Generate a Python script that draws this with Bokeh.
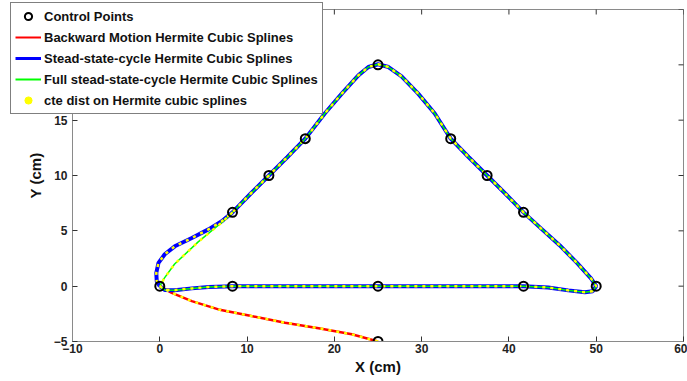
import math
from bokeh.plotting import figure
from bokeh.layouts import column
from bokeh.models import Legend, LegendItem, Range1d, FixedTicker
from bokeh.embed import file_html
from bokeh.resources import INLINE

# ---- data ----
ctrl_x = [0, 8.33, 25, 41.67, 50, 41.67, 37.5, 33.33, 25, 16.67, 12.5, 8.33, 25]
ctrl_y = [0, 0, 0, 0, 0, 6.67, 10, 13.33, 20, 13.33, 10, 6.67, -5]

# common part of the steady-state loop: (0,0) -> bottom -> right -> top -> (8.33,6.67)
loop_x = [0, 0.6, 1.7, 3.67, 5.6, 8.33, 25, 41.67, 44.5, 46.8, 48.7, 49.6, 50,
          49.4, 47.8, 45.8, 43.7, 41.67, 39.6, 37.5, 35.4, 33.33,
          31.5, 29.6, 27.7, 26.2, 25.0, 23.9, 22.75, 20.85, 18.9, 16.67,
          14.6, 12.5, 10.4, 8.33]
loop_y = [0, -0.35, -0.36, -0.2, -0.08, 0, 0, 0, -0.12, -0.38, -0.55, -0.45, 0,
          0.7, 2.1, 3.7, 5.2, 6.67, 8.35, 10, 11.65, 13.33,
          15.6, 17.4, 18.95, 19.8, 20.05, 19.8, 19.05, 17.4, 15.6, 13.33,
          11.65, 10, 8.35, 6.67]

# closing segment of the steady-state cycle (blue)
blue_tail_x = [8.33, 7.1, 5.58, 3.67, 1.72, 0.57, -0.15, -0.4, -0.35, 0]
blue_tail_y = [6.67, 5.86, 5.13, 4.35, 3.6, 2.88, 2.1, 1.2, 0.45, 0]

# closing segment of the full steady-state cycle (green)
green_tail_x = [8.33, 7.1, 4.4, 1.7, 0.5, 0]
green_tail_y = [6.67, 5.75, 4.0, 2.0, 0.7, 0]

# backward motion (red)
back_x = [25, 22, 18.2, 14.35, 10.5, 6.72, 3.67, 1.37, 0]
back_y = [-5, -4.35, -3.8, -3.3, -2.7, -2.1, -1.35, -0.6, 0]

x_ticks = [-10, 0, 10, 20, 30, 40, 50, 60]
y_ticks = [-5, 0, 5, 10, 15, 20, 25]

legend_labels = [
    "Control Points",
    "Backward Motion Hermite Cubic Splines",
    "Stead-state-cycle Hermite Cubic Splines",
    "Full stead-state-cycle Hermite Cubic Splines",
    "cte dist on Hermite cubic splines",
]

FONT = "Liberation Sans"
AX_GRAY = "#8a8a8a"
RED, BLUE, GREEN, YELLOW = "#ff0000", "#0000ff", "#00ff00", "#ffff00"

p = figure(width=687, height=381, x_range=Range1d(-10, 60), y_range=Range1d(-5, 25),
           output_backend="svg", toolbar_location=None,
           min_border_left=72, min_border_right=4, min_border_top=9, min_border_bottom=40)
p.xgrid.visible = False
p.ygrid.visible = False
p.outline_line_color = AX_GRAY
p.outline_line_width = 1

for ax, ticks in ((p.xaxis[0], x_ticks), (p.yaxis[0], y_ticks)):
    ax.ticker = FixedTicker(ticks=ticks)
    ax.major_tick_in = 5
    ax.major_tick_out = 0
    ax.minor_tick_line_color = None
    ax.axis_line_color = AX_GRAY
    ax.major_tick_line_color = "#333333"
    ax.major_label_text_font = FONT
    ax.major_label_text_font_style = "bold"
    ax.major_label_text_font_size = "12px"
    ax.major_label_text_color = "#222222"
    ax.axis_label_text_font = FONT
    ax.axis_label_text_font_style = "bold"
    ax.axis_label_text_font_size = "15px"
    ax.axis_label_text_color = "#111111"

p.xaxis.axis_label = "X (cm)"
p.yaxis.axis_label = "Y (cm)"
p.xaxis.major_label_standoff = 2
p.xaxis.axis_label_standoff = 2
p.yaxis.major_label_standoff = 5
p.yaxis.axis_label_standoff = 7

# inward ticks on the top and right edges of the box
x_end = p.x_range.end
y_end = p.y_range.end
p.scatter([x_end] * len(y_ticks), y_ticks, marker="dash", size=10,
          line_color="#333333", line_width=1)
p.scatter(x_ticks, [y_end] * len(x_ticks), marker="dash", size=10, angle=math.pi / 2,
          line_color="#333333", line_width=1)

steady_x = loop_x + blue_tail_x[1:]
steady_y = loop_y + blue_tail_y[1:]
full_x = loop_x + green_tail_x[1:]
full_y = loop_y + green_tail_y[1:]

p.line(back_x, back_y, line_color=RED, line_width=2.5)
p.line(steady_x, steady_y, line_color=BLUE, line_width=4)
p.line(full_x, full_y, line_color=GREEN, line_width=1.5)
# constant-distance points on the splines, drawn as a yellow dotted trace
for xs, ys in ((steady_x, steady_y), (green_tail_x, green_tail_y), (back_x, back_y)):
    p.line(xs, ys, line_color=YELLOW, line_width=2.5, line_dash="3 5")
p.scatter(ctrl_x, ctrl_y, marker="circle", size=9, fill_color=None,
          line_color="black", line_width=2)

# ---- legend: a small transparent figure laid over the top-left corner ----
# its ranges are set away from the data so that only the legend shows
L = figure(width=396, height=114, x_range=Range1d(100, 101), y_range=Range1d(100, 101),
           output_backend="svg", toolbar_location=None,
           x_axis_type=None, y_axis_type=None, min_border=0)
L.xgrid.visible = False
L.ygrid.visible = False
L.outline_line_color = None
L.background_fill_alpha = 0
L.border_fill_alpha = 0
L.margin = (-379, 0, 0, -62)

g_ctrl = L.scatter(ctrl_x, ctrl_y, marker="circle", size=8, fill_color=None,
                   line_color="black", line_width=2)
g_red = L.line(back_x, back_y, line_color=RED, line_width=2)
g_blue = L.line(steady_x, steady_y, line_color=BLUE, line_width=3)
g_green = L.line(full_x, full_y, line_color=GREEN, line_width=2)
g_yel = L.scatter(back_x, back_y, marker="circle", size=3, color=YELLOW)

legend = Legend(items=[LegendItem(label=lab, renderers=[r]) for lab, r in
                       zip(legend_labels, [g_ctrl, g_red, g_blue, g_green, g_yel])],
                location="top_left")
legend.label_text_font = FONT
legend.label_text_font_style = "bold"
legend.label_text_font_size = "13px"
legend.label_text_color = "#111111"
legend.border_line_color = "black"
legend.border_line_width = 1
legend.background_fill_color = "white"
legend.background_fill_alpha = 1
legend.glyph_width = 26
legend.glyph_height = 18
legend.label_height = 18
legend.spacing = 3
legend.padding = 4
legend.label_standoff = 3
legend.margin = 0
L.add_layout(legend)

layout = column(p, L, spacing=0)
open("out.html", "w").write(file_html(layout, INLINE))
